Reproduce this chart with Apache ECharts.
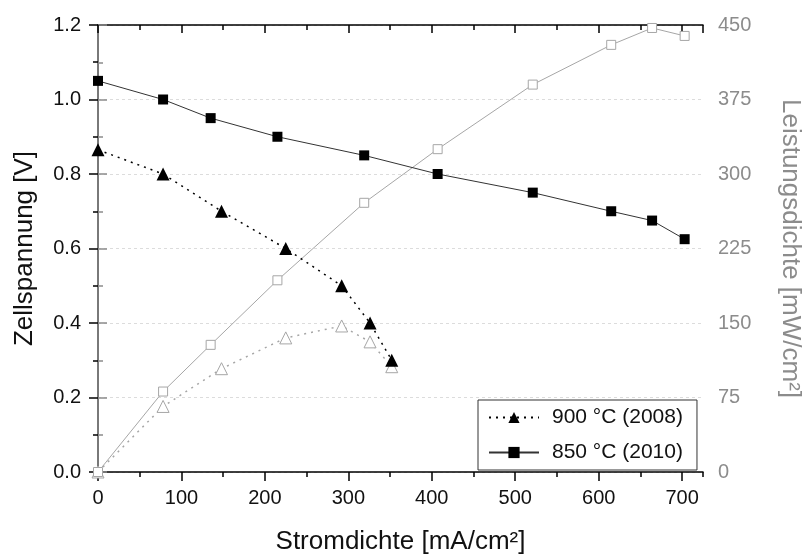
<!DOCTYPE html>
<html>
<head>
<meta charset="utf-8">
<script src="https://cdn.jsdelivr.net/npm/echarts@6/dist/echarts.min.js"></script>
<style>html,body{margin:0;padding:0;background:#fff}#c{width:811px;height:558px}</style>
</head>
<body>
<div id="c"></div>
<script>
// Data
const x900 = [0, 78, 148, 225, 292, 326, 352];
const v900 = [0.865, 0.80, 0.70, 0.60, 0.50, 0.40, 0.30];
const p900 = [0, 66, 104, 135, 147, 131, 106];
const x850 = [0, 78, 135, 215, 319, 407, 521, 615, 664, 703];
const v850 = [1.05, 1.00, 0.95, 0.90, 0.85, 0.80, 0.75, 0.70, 0.675, 0.625];
const p850 = [0, 81, 128, 193, 271, 325, 390, 430, 447, 439];
const name900 = '900 °C (2008)';
const name850 = '850 °C (2010)';

const pair = (xs, ys) => xs.map((x, i) => [x, ys[i]]);
const FONT = 'Liberation Sans, Arial, sans-serif';
const GRAY = '#8c8c8c';
const HOLLOW = '#a6a6a6';

const chart = echarts.init(document.getElementById('c'));
const xBase = {type: 'value', min: 0, max: 725, gridIndex: 0, splitLine: {show: false}};
chart.setOption({
  animation: false,
  backgroundColor: '#fff',
  textStyle: {fontFamily: FONT},
  grid: {left: 98, right: 108, top: 25, bottom: 86, containLabel: false, outerBoundsMode: 'none'},
  legend: {
    orient: 'vertical', left: 478, top: 400,
    data: [name900, name850],
    itemWidth: 50, itemHeight: 14, itemGap: 14,
    padding: [7, 14, 7, 10],
    borderColor: '#333', borderWidth: 1, backgroundColor: '#fff',
    textStyle: {fontSize: 21, color: '#111', fontFamily: FONT, padding: [0, 0, 0, 8]}
  },
  xAxis: [
    Object.assign({}, xBase, {
      position: 'bottom', interval: 100,
      name: 'Stromdichte [mA/cm²]', nameLocation: 'middle', nameGap: 57,
      nameTextStyle: {fontSize: 26, color: '#111', fontFamily: FONT},
      axisLine: {show: true, lineStyle: {color: '#000', width: 1.5}},
      axisTick: {show: true, inside: false, length: 9, lineStyle: {color: '#000', width: 1.5}},
      axisLabel: {fontSize: 20, color: '#111', margin: 16, showMaxLabel: false, fontFamily: FONT}
    }),
    Object.assign({}, xBase, {
      position: 'bottom', interval: 50,
      axisLine: {show: false},
      axisTick: {show: true, inside: false, length: 5, lineStyle: {color: '#000', width: 1.5}},
      axisLabel: {show: false}
    }),
    Object.assign({}, xBase, {
      position: 'top', interval: 100,
      axisLine: {show: true, lineStyle: {color: '#000', width: 1.5}},
      axisTick: {show: true, inside: true, length: 8, lineStyle: {color: '#000', width: 1.5}},
      axisLabel: {show: false}
    }),
    Object.assign({}, xBase, {
      position: 'top', interval: 50,
      axisLine: {show: false},
      axisTick: {show: true, inside: true, length: 5, lineStyle: {color: '#000', width: 1.5}},
      axisLabel: {show: false}
    })
  ],
  yAxis: [
    {
      type: 'value', position: 'left', min: 0, max: 1.2, interval: 0.2,
      name: 'Zellspannung [V]', nameLocation: 'middle', nameGap: 60, nameRotate: 90,
      nameTextStyle: {fontSize: 26, color: '#111', fontFamily: FONT},
      axisLine: {show: true, lineStyle: {color: '#000', width: 1.5}},
      axisTick: {show: true, inside: false, length: 9, lineStyle: {color: '#000', width: 1.5}},
      minorTick: {show: true, splitNumber: 2, length: 5, lineStyle: {color: '#000', width: 1.5}},
      axisLabel: {fontSize: 20, color: '#111', margin: 17, formatter: v => v.toFixed(1), fontFamily: FONT},
      splitLine: {show: true, lineStyle: {color: '#dcdcdc', type: [3, 3], width: 1}}
    },
    {
      type: 'value', position: 'right', min: 0, max: 450, interval: 75,
      name: 'Leistungsdichte [mW/cm²]', nameLocation: 'middle', nameGap: 74, nameRotate: -90,
      nameTextStyle: {fontSize: 26, color: GRAY, fontFamily: FONT},
      axisLine: {show: true, lineStyle: {color: GRAY, width: 1.5}},
      axisTick: {show: true, inside: false, length: 9, lineStyle: {color: GRAY, width: 1.5}},
      minorTick: {show: true, splitNumber: 2, length: 5, lineStyle: {color: GRAY, width: 1.5}},
      axisLabel: {fontSize: 20, color: GRAY, margin: 15, fontFamily: FONT},
      splitLine: {show: false}
    }
  ],
  series: [
    {
      name: name900, type: 'line', xAxisIndex: 0, yAxisIndex: 0,
      data: pair(x900, v900),
      symbol: 'triangle', symbolSize: 13,
      lineStyle: {color: '#000', width: 1.5, type: [2, 5]},
      itemStyle: {color: '#000'}, z: 5
    },
    {
      name: name850, type: 'line', xAxisIndex: 0, yAxisIndex: 0,
      data: pair(x850, v850),
      symbol: 'rect', symbolSize: 10,
      lineStyle: {color: '#333', width: 1},
      itemStyle: {color: '#000'}, z: 5
    },
    {
      name: 'P900', type: 'line', xAxisIndex: 0, yAxisIndex: 1,
      data: pair(x900, p900),
      symbol: 'triangle', symbolSize: 12,
      lineStyle: {color: HOLLOW, width: 1.5, type: [2, 5]},
      itemStyle: {color: '#fff', borderColor: HOLLOW, borderWidth: 1}, z: 4
    },
    {
      name: 'P850', type: 'line', xAxisIndex: 0, yAxisIndex: 1,
      data: pair(x850, p850),
      symbol: 'rect', symbolSize: 9,
      lineStyle: {color: HOLLOW, width: 1},
      itemStyle: {color: '#fff', borderColor: HOLLOW, borderWidth: 1}, z: 4
    }
  ]
});
</script>
</body>
</html>
